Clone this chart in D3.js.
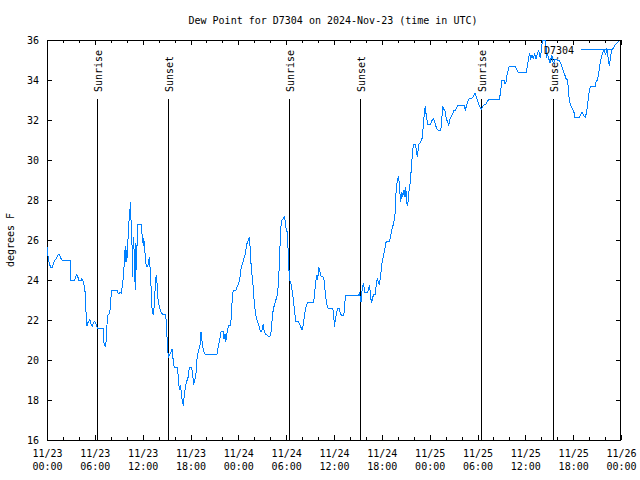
<!DOCTYPE html>
<html><head><meta charset="utf-8">
<script src="https://cdn.jsdelivr.net/npm/d3@7"></script>
<style>
body{margin:0;background:#fff}
svg{display:block}
text{font-family:"DejaVu Sans Mono",monospace;font-size:10px;fill:#000}
</style>
</head><body>
<svg id="c" width="640" height="480"></svg>
<script>
// ---- data ----
const titleText = "Dew Point for D7304 on 2024-Nov-23 (time in UTC)";
const seriesName = "D7304";
const yLabelText = "degrees F";
const startUTC = Date.UTC(2024, 10, 23, 0, 0);
const yTicks = [16, 18, 20, 22, 24, 26, 28, 30, 32, 34, 36];
const xMajorHours = [0, 6, 12, 18, 24, 30, 36, 42, 48, 54, 60, 66, 72];
const xMinorHours = [2, 4, 8, 10, 14, 16, 20, 22, 26, 28, 32, 34, 38, 40, 44, 46, 50, 52, 56, 58, 62, 64, 68, 70];
const sunLabels = ["Sunrise", "Sunset", "Sunrise", "Sunset", "Sunrise", "Sunset"];
const sunHours = [6.31, 15.22, 30.39, 39.30, 54.50, 63.41];
// [hours since 11/23 00:00 UTC, dew point °F]
const readings = [
[0,25.63],[0.16,25.1],[0.29,24.83],[0.46,24.63],[0.72,24.63],[0.79,24.83],[1.0,25.0],[1.22,25.1],[1.42,25.27],[1.54,25.27],
[1.72,25.1],[1.88,25.0],[2.97,25.0],[3.01,24.0],[3.48,24.0],[3.55,24.13],[3.73,24.27],[3.89,24.13],[3.98,24.0],[4.30,24.0],
[4.39,24.07],[4.48,24.0],[4.64,23.75],[4.77,23.42],[4.83,22.9],[4.92,22.17],[5.02,21.7],[5.14,21.87],[5.39,22.03],[5.52,21.8],
[5.68,21.7],[5.93,21.92],[6.11,21.87],[6.23,21.7],[6.36,21.6],[7.06,21.6],[7.15,20.87],[7.31,20.63],[7.44,21.03],[7.53,21.8],
[7.65,22.25],[7.78,22.3],[7.90,22.47],[7.99,23.0],[8.12,23.5],[8.82,23.5],[8.94,23.3],[9.16,23.37],[9.32,23.33],[9.45,23.75],
[9.57,24.08],[9.70,24.9],[9.82,25.7],[9.91,24.9],[10.0,25.5],[10.07,25.1],[10.20,26.45],[10.25,26.33],[10.32,27.5],[10.37,27.17],
[10.45,27.92],[10.54,27.0],[10.63,26.0],[10.70,25.5],[10.75,24.17],[10.79,25.67],[10.88,26.17],[10.95,24.87],[11.08,23.5],[11.16,25.83],
[11.25,24.5],[11.33,26.8],[11.79,26.8],[11.88,26.4],[12.01,26.0],[12.08,25.7],[12.13,26.08],[12.26,25.67],[12.33,25.03],[12.46,24.7],
[12.63,24.7],[12.71,24.8],[12.83,25.17],[12.92,24.67],[13.05,23.67],[13.08,23.0],[13.21,22.42],[13.33,22.25],[13.42,22.6],[13.51,23.0],
[13.59,23.9],[13.71,24.23],[13.80,23.83],[13.89,23.25],[13.96,22.9],[14.14,22.58],[14.34,22.37],[14.46,22.3],[14.89,22.3],[15.02,21.42],
[15.14,20.42],[15.27,20.17],[15.47,20.33],[15.68,20.53],[15.77,20.3],[15.84,19.87],[15.97,19.63],[16.35,19.63],[16.47,19.17],[16.60,18.5],
[16.77,18.75],[16.85,18.25],[16.97,18.0],[17.10,17.7],[17.22,18.25],[17.40,18.75],[17.52,18.92],[17.69,19.13],[17.78,19.42],[17.90,19.63],
[18.15,19.63],[18.28,19.25],[18.40,18.75],[18.53,19.0],[18.65,19.13],[18.85,20.2],[19.03,20.5],[19.19,20.75],[19.32,21.42],[19.48,20.83],
[19.61,20.5],[19.82,20.3],[21.33,20.3],[21.49,20.67],[21.61,20.92],[21.74,21.2],[21.83,21.42],[22.12,21.42],[22.20,21.03],[22.33,21.3],
[22.42,20.92],[22.54,21.25],[22.67,21.53],[22.79,21.73],[22.96,21.73],[23.08,22.0],[23.17,22.5],[23.24,23.13],[23.37,23.5],[23.71,23.5],
[23.83,23.63],[24.0,23.8],[24.17,24.0],[24.30,24.5],[24.42,24.7],[24.55,24.87],[24.67,25.03],[24.84,25.25],[24.96,25.53],[25.09,25.83],
[25.25,26.0],[25.38,26.13],[25.46,25.75],[25.55,25.0],[25.72,24.25],[25.84,23.75],[25.93,23.25],[26.05,22.67],[26.18,22.25],[26.34,22.0],
[26.51,21.8],[26.68,21.58],[26.76,21.43],[26.93,21.43],[27.13,21.8],[27.22,21.5],[27.35,21.33],[27.51,21.27],[27.69,21.2],[27.97,21.2],
[28.10,21.42],[28.19,21.8],[28.31,22.33],[28.44,22.63],[28.60,22.83],[28.76,23.08],[28.89,23.25],[29.01,23.75],[29.14,24.75],[29.27,26.13],
[29.39,26.92],[29.52,27.03],[29.69,27.08],[29.77,27.2],[29.86,27.0],[29.94,26.63],[30.11,26.42],[30.19,25.97],[30.32,24.87],[30.39,24.13],
[30.48,23.97],[30.65,23.75],[30.77,23.42],[30.90,23.0],[31.07,22.37],[31.20,21.92],[31.52,21.92],[31.65,21.8],[31.82,21.67],[31.99,21.5],
[32.11,21.67],[32.28,22.17],[32.40,22.5],[32.53,22.7],[32.70,22.87],[33.41,22.87],[33.53,23.13],[33.62,23.58],[33.74,24.0],[33.87,24.25],
[33.96,24.0],[34.08,24.67],[34.21,24.45],[34.37,24.2],[34.58,24.2],[34.75,24.0],[34.96,23.17],[35.12,22.75],[35.25,22.58],[35.84,22.58],
[35.96,22.33],[36.04,21.67],[36.17,22.0],[36.34,22.42],[36.50,22.58],[36.67,22.58],[36.79,22.3],[36.97,22.23],[37.22,22.23],[37.29,22.5],
[37.38,22.95],[37.47,23.23],[39.05,23.23],[39.18,23.33],[39.30,23.17],[39.39,22.9],[39.55,23.58],[39.68,23.83],[39.76,23.67],[39.89,23.37],
[40.23,23.37],[40.35,23.58],[40.43,23.75],[40.52,23.5],[40.61,23.08],[40.73,22.87],[40.86,23.13],[40.98,23.3],[41.18,23.3],[41.23,23.5],
[41.36,23.92],[41.43,24.08],[41.56,23.92],[41.68,23.75],[41.77,24.0],[41.90,24.42],[42.02,24.83],[42.19,25.2],[42.36,25.5],[42.52,25.87],
[42.61,25.92],[42.94,25.92],[43.11,26.2],[43.24,26.47],[43.37,26.67],[43.49,26.87],[43.62,27.08],[43.69,27.5],[43.78,28.37],[43.94,28.97],
[44.12,29.2],[44.19,28.7],[44.37,27.92],[44.49,28.42],[44.62,28.17],[44.78,28.5],[44.91,28.17],[45.0,28.67],[45.12,27.83],[45.25,27.75],
[45.37,28.33],[45.50,28.67],[45.62,29.17],[45.75,29.83],[45.87,30.5],[46.0,30.8],[46.20,30.8],[46.33,30.5],[46.45,30.17],[46.58,30.58],
[46.66,30.8],[46.83,30.87],[47.04,31.08],[47.20,31.67],[47.33,32.37],[47.45,32.7],[47.58,32.17],[47.76,31.8],[48.13,31.8],[48.29,31.97],
[48.46,32.08],[48.63,31.92],[48.80,31.67],[48.96,31.53],[49.14,31.47],[49.39,31.47],[49.51,31.97],[49.64,32.7],[49.76,32.53],[49.89,32.5],
[50.05,32.17],[50.21,31.92],[50.39,31.75],[50.55,32.03],[50.72,32.2],[50.89,32.33],[51.05,32.47],[51.22,32.47],[51.39,32.63],[51.56,32.73],
[52.31,32.73],[52.47,32.5],[52.65,32.75],[52.81,32.97],[52.97,33.08],[53.27,33.08],[53.48,33.17],[53.69,33.37],[53.81,33.2],[53.98,33.0],
[54.23,32.7],[54.48,32.53],[54.65,32.67],[54.82,32.75],[55.07,32.8],[55.19,32.9],[55.41,33.03],[56.74,33.03],[56.91,33.42],[57.04,33.97],
[57.33,33.97],[57.45,33.8],[57.58,33.92],[57.74,34.33],[57.99,34.7],[58.71,34.7],[58.92,34.53],[59.12,34.37],[60.09,34.37],[60.25,34.67],
[60.43,35.13],[60.55,35.33],[60.68,35.08],[60.84,35.25],[61.0,35.08],[61.18,35.3],[61.34,35.03],[61.50,35.3],[61.68,35.47],[61.80,35.25],
[61.88,35.08],[62.01,35.5],[62.13,35.92],[62.22,36.0],[62.47,36.0],[62.60,35.67],[62.68,35.17],[62.81,35.25],[62.93,35.08],[63.10,34.83],
[63.31,35.25],[63.51,34.83],[63.72,35.03],[63.94,35.0],[64.26,34.97],[64.48,34.8],[64.73,34.5],[65.10,34.08],[65.32,34.0],[65.39,33.5],
[65.52,32.97],[65.73,32.7],[65.94,32.53],[66.11,32.37],[66.23,32.13],[66.77,32.13],[66.95,32.25],[67.11,32.42],[67.27,32.25],[67.52,32.13],
[67.70,32.42],[67.86,32.92],[68.03,33.5],[68.20,33.67],[68.74,33.67],[68.87,33.92],[69.03,34.0],[69.21,34.33],[69.37,34.83],[69.66,35.3],
[69.87,35.53],[70.08,35.25],[70.21,35.58],[70.37,35.17],[70.54,34.7],[70.66,35.08],[70.84,35.53],[71.04,35.58],[71.25,35.75],[71.54,35.87],
[71.75,35.92]
];

// ---- layout ----
const L = 47, R = 621, T = 40, B = 440;
const lineColor = "#0080ff";
const hr = h => new Date(startUTC + h * 3600e3);

const svg = d3.select("#c");
const x = d3.scaleUtc().domain([hr(0), hr(72)]).range([L, R]);
const y = d3.scaleLinear().domain([16, 36]).range([B, T]);

function styleAxis(g) {
  g.attr("font-family", null).attr("font-size", null);
  g.select(".domain").remove();
  g.selectAll(".tick line").attr("stroke", "#000").attr("shape-rendering", "crispEdges");
}

// bottom axis with labels
const fmtD = d3.utcFormat("%m/%d"), fmtT = d3.utcFormat("%H:%M");
const gB = svg.append("g").attr("transform", `translate(0,${B})`)
  .call(d3.axisBottom(x).tickValues(xMajorHours.map(hr)).tickSizeInner(-5).tickSizeOuter(0).tickFormat(""))
  .call(styleAxis);
gB.selectAll(".tick text").each(function(d) {
  const t = d3.select(this).attr("y", null).attr("dy", null);
  t.text(null);
  t.append("tspan").attr("x", 0).attr("y", 17).text(fmtD(d));
  t.append("tspan").attr("x", 0).attr("y", 30).text(fmtT(d));
});
svg.append("g").attr("transform", `translate(0,${B})`)
  .call(d3.axisBottom(x).tickValues(xMinorHours.map(hr)).tickSizeInner(-3).tickSizeOuter(0).tickFormat(""))
  .call(styleAxis);
// top mirror
svg.append("g").attr("transform", `translate(0,${T})`)
  .call(d3.axisTop(x).tickValues(xMajorHours.map(hr)).tickSizeInner(-5).tickSizeOuter(0).tickFormat(""))
  .call(styleAxis);
svg.append("g").attr("transform", `translate(0,${T})`)
  .call(d3.axisTop(x).tickValues(xMinorHours.map(hr)).tickSizeInner(-3).tickSizeOuter(0).tickFormat(""))
  .call(styleAxis);
// left axis
svg.append("g").attr("transform", `translate(${L},0)`)
  .call(d3.axisLeft(y).tickValues(yTicks).tickSizeInner(-5).tickSizeOuter(0).tickPadding(8).tickFormat(d3.format("d")))
  .call(styleAxis);
// right mirror
svg.append("g").attr("transform", `translate(${R},0)`)
  .call(d3.axisRight(y).tickValues(yTicks).tickSizeInner(-5).tickSizeOuter(0).tickFormat(""))
  .call(styleAxis);

// border
svg.append("rect").attr("x", L + 0.5).attr("y", T + 0.5).attr("width", R - L - 1).attr("height", B - T)
  .attr("fill", "none").attr("stroke", "#000").attr("shape-rendering", "crispEdges");

// sunrise / sunset markers
sunHours.forEach((h, i) => {
  const px = Math.round(x(hr(h))) + 0.5;
  svg.append("line").attr("x1", px).attr("x2", px).attr("y1", 99).attr("y2", B)
    .attr("stroke", "#000").attr("shape-rendering", "crispEdges");
  svg.append("text").attr("transform", `translate(${px + 4},92) rotate(-90)`)
    .attr("text-anchor", "start").text(sunLabels[i]);
});

// data line
svg.append("clipPath").attr("id", "clip").append("rect")
  .attr("x", L).attr("y", T).attr("width", R - L).attr("height", B - T);
const line = d3.line().x(d => x(hr(d[0]))).y(d => y(d[1]));
svg.append("path").datum(readings).attr("d", line).attr("clip-path", "url(#clip)")
  .attr("fill", "none").attr("stroke", lineColor).attr("stroke-width", 1)
  .attr("shape-rendering", "crispEdges");

// legend
svg.append("text").attr("x", 574).attr("y", 54).attr("text-anchor", "end").text(seriesName);
svg.append("line").attr("x1", 581).attr("x2", 611).attr("y1", 49.5).attr("y2", 49.5)
  .attr("stroke", lineColor).attr("shape-rendering", "crispEdges");

// title and y label
svg.append("text").attr("x", 333).attr("y", 24).attr("text-anchor", "middle").text(titleText);
svg.append("text").attr("transform", `translate(14,240) rotate(-90)`).attr("text-anchor", "middle").text(yLabelText);
</script>
</body></html>
